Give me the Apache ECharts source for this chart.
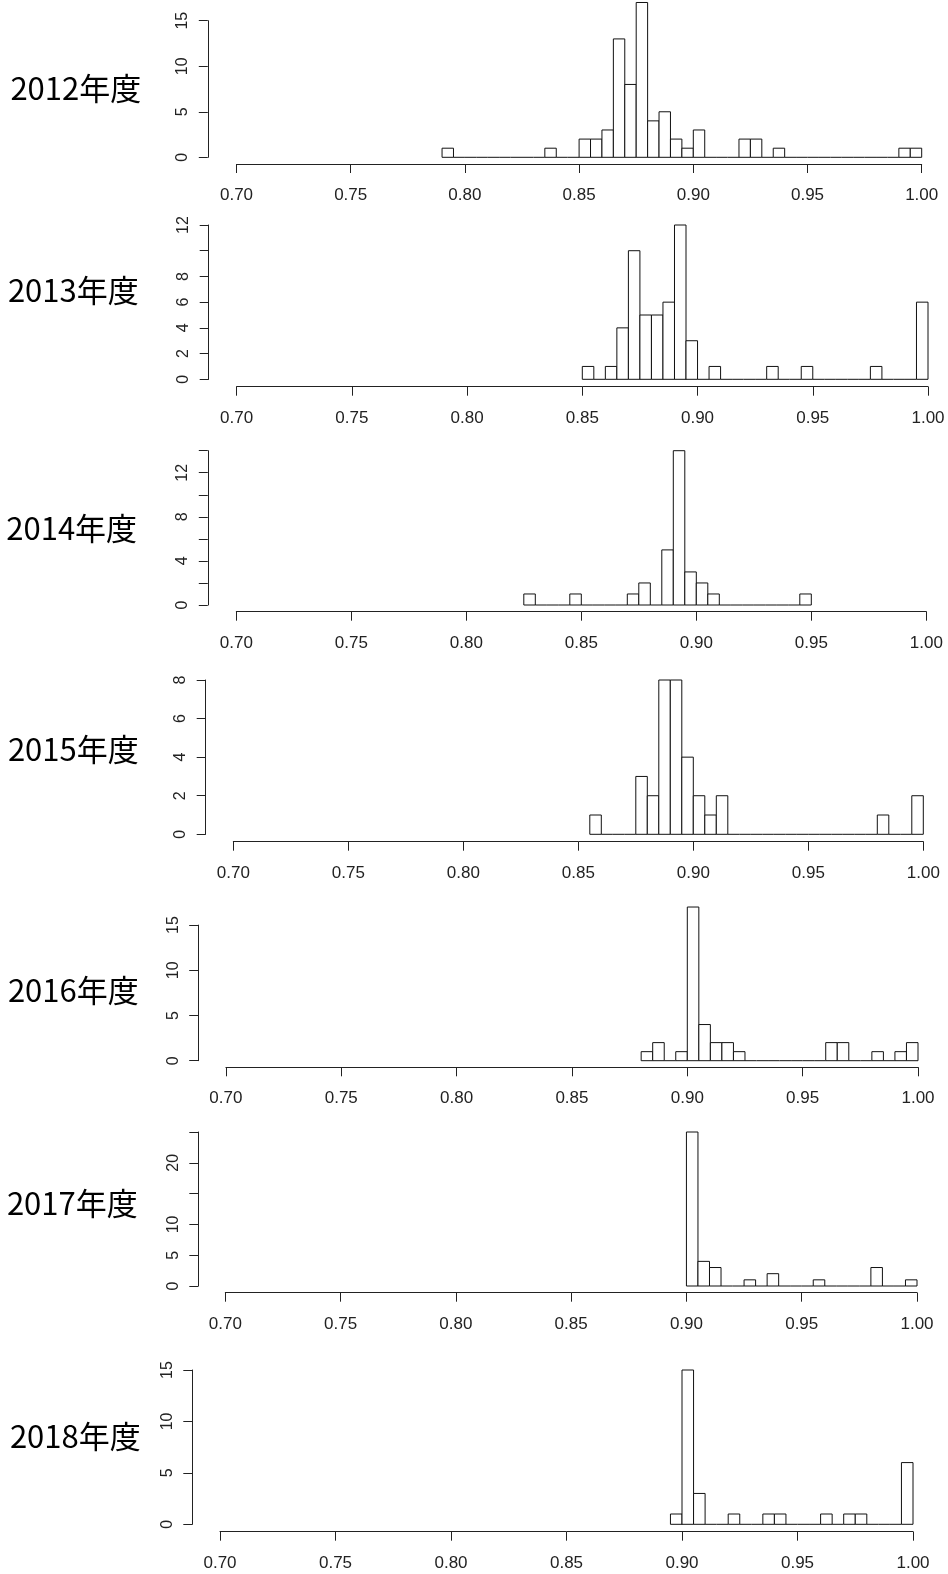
<!DOCTYPE html>
<html>
<head>
<meta charset="utf-8">
<script src="https://cdn.jsdelivr.net/npm/echarts@6/dist/echarts.min.js"></script>
<style>
html,body{margin:0;padding:0;background:#fff;}
#chart{width:948px;height:1574px;}
</style>
</head>
<body>
<div id="chart"></div>
<script>
// ---- data (histogram counts, bin width 0.005) ----
const BIN = 0.005;
const years = ['2012年度','2013年度','2014年度','2015年度','2016年度','2017年度','2018年度'];
const binStarts = [0.79, 0.85, 0.825, 0.855, 0.88, 0.90, 0.895];
const counts2012 = [1,0,0,0,0,0,0,0,0,1, 0,0,2,2,3,13,8,17,4,5, 2,1,3,0,0,0,2,2,0,1, 0,0,0,0,0,0,0,0,0,0, 1,1];
const counts2013 = [1,0,1,4,10,5,5,6,12,3, 0,1,0,0,0,0,1,0,0,1, 0,0,0,0,0,1,0,0,0,6];
const counts2014 = [1,0,0,0,1,0,0,0,0,1, 2,0,5,14,3,2,1,0,0,0, 0,0,0,0,1];
const counts2015 = [1,0,0,0,3,2,8,8,4,2, 1,2,0,0,0,0,0,0,0,0, 0,0,0,0,0,1,0,0,2];
const counts2016 = [1,2,0,1,17,4,2,2,1,0, 0,0,0,0,0,0,2,2,0,0, 1,0,1,2];
const counts2017 = [25,4,3,0,0,1,0,2,0,0, 0,1,0,0,0,0,3,0,0,1];
const counts2018 = [1,15,3,0,0,1,0,0,1,1, 0,0,0,1,0,1,1,0,0,0, 6];
const allCounts = [counts2012, counts2013, counts2014, counts2015, counts2016, counts2017, counts2018];

// tick values / labels
const xTicks = [0.70, 0.75, 0.80, 0.85, 0.90, 0.95, 1.00];
const yTickSteps = [5, 2, 2, 2, 5, 5, 5];
const yTopTicks = [15, 12, 14, 8, 15, 25, 15];
const yLabels2012 = [0, 5, 10, 15];
const yLabels2013 = [0, 2, 4, 6, 8, 12];
const yLabels2014 = [0, 4, 8, 12];
const yLabels2015 = [0, 2, 4, 6, 8];
const yLabels2016 = [0, 5, 10, 15];
const yLabels2017 = [0, 5, 10, 20];
const yLabels2018 = [0, 5, 10, 15];
const allYLabels = [yLabels2012, yLabels2013, yLabels2014, yLabels2015, yLabels2016, yLabels2017, yLabels2018];

// ---- layout (pixels) ----
const layout = [
  {x70:236.5, x100:921.7, zeroY:157.3, topY:20.7,  yAxisX:207.8, xAxisY:164.0,  labelX:75.8, labelY:88},
  {x70:236.6, x100:928.0, zeroY:379.3, topY:225.0, yAxisX:208.7, xAxisY:386.7,  labelX:73.3, labelY:290},
  {x70:236.3, x100:926.3, zeroY:605.0, topY:450.7, yAxisX:207.8, xAxisY:611.7,  labelX:71.7, labelY:528},
  {x70:233.3, x100:923.3, zeroY:834.3, topY:680.0, yAxisX:205.7, xAxisY:841.7,  labelX:73.3, labelY:749},
  {x70:225.9, x100:918.0, zeroY:1060.7,topY:925.1, yAxisX:198.2, xAxisY:1067.3, labelX:73.3, labelY:990},
  {x70:225.3, x100:917.0, zeroY:1286.0,topY:1132.0,yAxisX:198.3, xAxisY:1292.7, labelX:72.3, labelY:1203},
  {x70:220.0, x100:913.0, zeroY:1524.3,topY:1370.0,yAxisX:192.3, xAxisY:1531.7, labelX:75.3, labelY:1436}
];

const AX = '#222';
const FONT = '"Liberation Sans", Arial, sans-serif';

const grids = [], xAxes = [], yAxes = [], series = [], graphics = [];

years.forEach((yr, i) => {
  const L = layout[i];
  grids.push({left: L.x70, top: L.topY, width: L.x100 - L.x70, height: L.zeroY - L.topY});
  xAxes.push({
    gridIndex: i, type: 'value', min: 0.70, max: 1.00, interval: 0.05,
    offset: L.xAxisY - L.zeroY,
    splitLine: {show: false},
    axisLine: {show: true, onZero: false, lineStyle: {color: AX, width: 1}},
    axisTick: {show: true, length: 9, customValues: xTicks, lineStyle: {color: AX, width: 1}},
    axisLabel: {show: true, customValues: xTicks, margin: 23, fontSize: 17, color: '#222', fontFamily: FONT,
      formatter: v => Number(v).toFixed(2)}
  });
  const labs = allYLabels[i];
  yAxes.push({
    gridIndex: i, type: 'value', min: 0, max: yTopTicks[i], interval: yTickSteps[i],
    offset: L.x70 - L.yAxisX,
    splitLine: {show: false},
    axisLine: {show: true, onZero: false, lineStyle: {color: AX, width: 1}},
    axisTick: {show: true, length: 9, lineStyle: {color: AX, width: 1}},
    axisLabel: {show: true, rotate: 90, margin: 17, fontSize: 16, color: '#222', fontFamily: FONT,
      formatter: v => (labs.indexOf(Number(v)) >= 0 ? String(v) : '')}
  });
  const data = allCounts[i].map((c, k) => {
    const x0 = +(binStarts[i] + k * BIN).toFixed(4);
    return [x0, +(x0 + BIN).toFixed(4), c];
  });
  series.push({
    type: 'custom', xAxisIndex: i, yAxisIndex: i, coordinateSystem: 'cartesian2d',
    dimensions: ['x0', 'x1', 'count'],
    encode: {x: [0, 1], y: 2},
    clip: false,
    silent: true,
    animation: false,
    data: data,
    renderItem: function (params, api) {
      const x0 = api.value(0), x1 = api.value(1), c = api.value(2);
      const pTop = api.coord([x0, c]);
      const pBase = api.coord([x1, 0]);
      if (c === 0) {
        return {type: 'line', shape: {x1: pTop[0], y1: pBase[1], x2: pBase[0], y2: pBase[1]},
          style: {stroke: '#111', lineWidth: 1}};
      }
      return {type: 'rect',
        shape: {x: pTop[0], y: pTop[1], width: pBase[0] - pTop[0], height: pBase[1] - pTop[1]},
        style: {fill: '#fff', stroke: '#111', lineWidth: 1}};
    }
  });
  graphics.push({
    type: 'text', x: L.labelX, y: L.labelY,
    style: {text: yr, fill: '#000', fontSize: 31, fontFamily: '"Noto Sans CJK JP", sans-serif',
      align: 'center', verticalAlign: 'middle'}
  });
});

const chart = echarts.init(document.getElementById('chart'), null, {renderer: 'canvas'});
chart.setOption({
  backgroundColor: '#fff',
  animation: false,
  grid: grids,
  xAxis: xAxes,
  yAxis: yAxes,
  series: series,
  graphic: graphics
});
</script>
</body>
</html>
